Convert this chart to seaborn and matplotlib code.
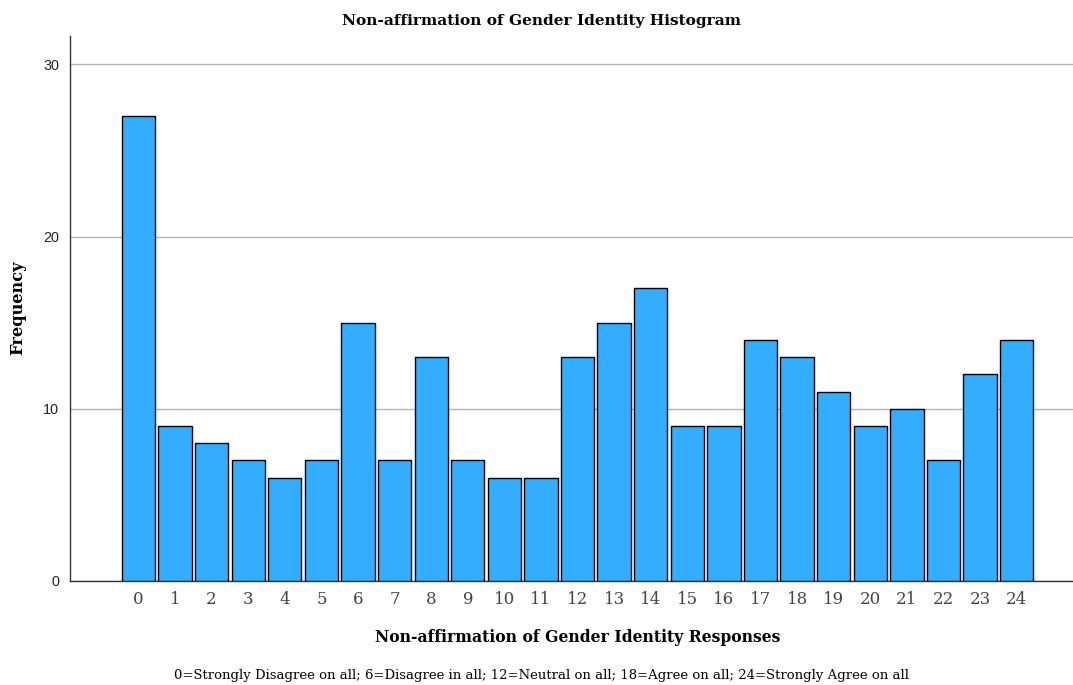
import matplotlib
matplotlib.use("Agg")
import matplotlib.pyplot as plt
import seaborn as sns
import pandas as pd

categories = [str(i) for i in range(25)]
frequencies = [27, 9, 8, 7, 6, 7, 15, 7, 13, 7, 6, 6, 13, 15, 17, 9, 9, 14, 13, 11, 9, 10, 7, 12, 14]
yticks = [0, 10, 20, 30]

df = pd.DataFrame({"response": categories, "freq": frequencies})

sns.set_style("white")
fig = plt.figure(figsize=(10.73, 6.85), dpi=100)
ax = fig.add_axes([70 / 1073, 1 - 581 / 685, 1 - 70 / 1073, (581 - 36) / 685])

sns.barplot(data=df, x="response", y="freq", order=categories, color="#33adff",
            saturation=1, width=0.91, edgecolor="black", linewidth=1.0, ax=ax, zorder=3)

serif = "DejaVu Serif"
ax.set_xlim(-1.87, 25.54)
ax.set_ylim(0, 31.65)
ax.set_yticks(yticks)
ax.set_yticklabels([str(t) for t in yticks], fontfamily="Liberation Sans", fontsize=10.4, color="#222222")
ax.set_xticks(range(len(categories)))
ax.set_xticklabels(categories, fontfamily=serif, fontsize=12, color="#444444")
ax.yaxis.grid(True, color="#b3b3b3", linewidth=1.0, zorder=0)
ax.set_axisbelow(True)
for s in ["top", "right"]:
    ax.spines[s].set_visible(False)
for s in ["left", "bottom"]:
    ax.spines[s].set_color("#333333")
    ax.spines[s].set_linewidth(1.0)
ax.tick_params(axis="x", length=0, pad=7)
ax.tick_params(axis="y", length=0, pad=8)

ax.set_xlabel("")
ax.set_ylabel("")
fig.text(542 / 1073, 1 - 21 / 685, "Non-affirmation of Gender Identity Histogram",
         ha="center", va="center", fontfamily=serif, fontweight="bold", fontsize=11.1, color="black")
fig.text(578 / 1073, 1 - 638 / 685, "Non-affirmation of Gender Identity Responses",
         ha="center", va="center", fontfamily=serif, fontweight="bold", fontsize=11.25, color="black")
fig.text(542 / 1073, 1 - 675 / 685,
         "0=Strongly Disagree on all; 6=Disagree in all; 12=Neutral on all; 18=Agree on all; 24=Strongly Agree on all",
         ha="center", va="center", fontfamily=serif, fontsize=9.55, color="black")
fig.text(18 / 1073, 1 - 308 / 685, "Frequency", rotation=90, ha="center", va="center",
         fontfamily=serif, fontweight="bold", fontsize=11.7, color="black")

fig.savefig("out.png", dpi=100)
